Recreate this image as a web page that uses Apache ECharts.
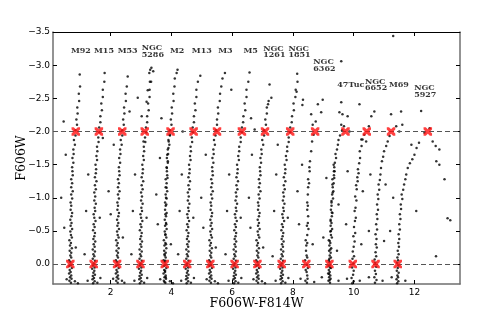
<!DOCTYPE html>
<html><head><meta charset="utf-8">
<script src="https://cdn.jsdelivr.net/npm/echarts@6/dist/echarts.min.js"></script>
<style>html,body{margin:0;padding:0;background:#fff}#c{width:482px;height:317px}</style>
</head><body><div id="c"></div>
<script>
// ---- tick labels ----
const xTicks = [2, 4, 6, 8, 10, 12];
const yTicks = [-3.5, -3.0, -2.5, -2.0, -1.5, -1.0, -0.5, 0.0];

// ---- fiducial markers (red crosses) ----
const zeroLevelX = [0.67,1.44,2.21,2.98,3.78,4.52,5.28,6.08,6.83,7.63,8.44,9.20,9.97,10.72,11.45];
const twoLevelX  = [0.85,1.61,2.38,3.12,3.97,4.73,5.50,6.32,7.08,7.91,8.73,9.73,10.43,11.23,12.44];
const refLevels  = [0, -2];

// ---- cluster labels ----
const labelNames = ['M92','M15','M53','NGC\n5286','M2','M13','M3','M5','NGC\n1261','NGC\n1851','NGC\n6362','47Tuc','NGC\n6652','M69','NGC\n5927'];
const labelX = [0.69,1.45,2.23,3.02,3.95,4.67,5.54,6.37,7.02,7.85,8.67,9.46,10.37,11.16,11.99];
const labelY = [-3.21,-3.21,-3.21,-3.21,-3.21,-3.21,-3.21,-3.21,-3.20,-3.20,-3.00,-2.70,-2.70,-2.70,-2.60];

// ---- stars: [F606W-F814W (offset), F606W (relative)] ----
const M92 = [[.69,.28],[.64,.25],[.71,.22],[.66,.2],[.70,.17],[.63,.14],[.68,.12],[.65,.09],[.72,.06],[.64,.03],[.69,.01],[.67,-.03],[.63,-.06],[.70,-.1],[.67,-.13],[.70,-.17],[.65,-.2],[.72,-.24],[.66,-.28],[.69,-.32],[.64,-.36],[.72,-.4],[.69,-.44],[.67,-.49],[.73,-.53],[.68,-.58],[.71,-.62],[.67,-.67],[.71,-.72],[.73,-.77],[.68,-.82],[.70,-.88],[.68,-.93],[.73,-.99],[.70,-1.05],[.75,-1.1],[.70,-1.16],[.73,-1.22],[.70,-1.28],[.75,-1.34],[.74,-1.4],[.73,-1.46],
[.77,-1.53],[.74,-1.6],[.78,-1.66],[.77,-1.73],[.82,-1.8],[.79,-1.87],[.84,-1.94],[.84,-2.02],[.89,-2.1],[.87,-2.18],[.91,-2.27],[.90,-2.36],[.96,-2.46],[.95,-2.57],[.99,-2.68],[.98,-2.86],
[.47,-.55],[.37,-1.0],[.85,-.25],[.52,-1.65],[.82,.26],[.55,.23],[.92,.29],[.45,-2.15]];
const M15 = [[1.42,.29],[1.47,.26],[1.40,.23],[1.45,.21],[1.41,.18],[1.48,.16],[1.43,.13],[1.46,.1],[1.39,.07],[1.47,.05],[1.42,.02],[1.44,-.01],[1.48,-.05],[1.41,-.08],[1.46,-.12],[1.43,-.15],[1.48,-.19],[1.41,-.22],[1.47,-.26],[1.44,-.3],[1.49,-.34],[1.43,-.38],[1.46,-.42],[1.48,-.47],[1.42,-.51],[1.47,-.56],[1.44,-.6],[1.50,-.65],[1.46,-.7],[1.44,-.75],[1.49,-.8],[1.47,-.85],[1.51,-.91],[1.46,-.96],[1.49,-1.02],[1.46,-1.08],[1.51,-1.13],[1.48,-1.19],[1.53,-1.25],[1.48,-1.31],[1.51,-1.37],[1.52,-1.43],
[1.50,-1.5],[1.55,-1.57],[1.53,-1.63],[1.56,-1.7],[1.55,-1.77],[1.60,-1.84],[1.59,-1.91],[1.63,-1.99],[1.62,-2.06],[1.66,-2.14],[1.66,-2.23],[1.71,-2.32],[1.69,-2.42],[1.74,-2.52],[1.74,-2.63],[1.79,-2.75],[1.80,-2.88],
[1.19,-.8],[1.64,-.7],[1.26,-1.35],[1.56,.28],[1.24,.25],[1.66,.21],[1.14,-.15],[1.74,-1.9]];
const M53 = [[2.23,.28],[2.18,.25],[2.25,.22],[2.20,.2],[2.24,.17],[2.17,.14],[2.22,.12],[2.19,.09],[2.26,.06],[2.18,.03],[2.23,.01],[2.21,-.03],[2.17,-.06],[2.24,-.1],[2.21,-.13],[2.24,-.17],[2.19,-.2],[2.26,-.24],[2.20,-.28],[2.23,-.32],[2.18,-.36],[2.26,-.4],[2.23,-.44],[2.21,-.49],[2.27,-.53],[2.22,-.58],[2.25,-.62],[2.21,-.67],[2.25,-.72],[2.27,-.77],[2.22,-.82],[2.24,-.88],[2.22,-.93],[2.27,-.99],[2.24,-1.05],[2.29,-1.1],[2.24,-1.16],[2.27,-1.22],[2.24,-1.28],[2.29,-1.34],[2.28,-1.4],[2.27,-1.46],
[2.31,-1.53],[2.28,-1.6],[2.32,-1.66],[2.31,-1.73],[2.36,-1.8],[2.33,-1.87],[2.38,-1.94],[2.38,-2.02],[2.43,-2.1],[2.41,-2.18],[2.45,-2.27],[2.44,-2.36],[2.50,-2.46],[2.49,-2.57],[2.53,-2.68],[2.56,-2.83],
[2.0,-.75],[1.93,-1.1],[2.4,-.4],[2.1,-1.8],[2.37,.25],[2.08,.22],[2.45,.28],[2.62,-2.3]];
const NGC5286 = [[2.96,.29],[3.01,.26],[2.94,.23],[2.99,.21],[2.95,.18],[3.02,.16],[2.97,.13],[3.00,.1],[2.93,.07],[3.01,.05],[2.96,.02],[2.98,-.01],[3.02,-.05],[2.95,-.08],[3.00,-.12],[2.97,-.15],[3.02,-.19],[2.95,-.22],[3.01,-.26],[2.98,-.3],[3.03,-.34],[2.97,-.38],[3.00,-.42],[3.02,-.47],[2.96,-.51],[3.01,-.56],[2.98,-.6],[3.04,-.65],[3.00,-.7],[2.98,-.75],[3.03,-.8],[3.01,-.85],[3.05,-.91],[3.00,-.96],[3.03,-1.02],[3.00,-1.08],[3.05,-1.13],[3.02,-1.19],[3.07,-1.25],[3.02,-1.31],[3.05,-1.37],[3.06,-1.43],
[3.04,-1.5],[3.09,-1.57],[3.07,-1.63],[3.10,-1.7],[3.09,-1.77],[3.14,-1.84],[3.13,-1.91],[3.17,-1.99],[3.16,-2.06],[3.20,-2.14],[3.20,-2.23],[3.25,-2.32],[3.23,-2.42],[3.28,-2.52],[3.28,-2.63],[3.33,-2.75],
[3.30,-2.93],[3.34,-2.96],[3.27,-2.88],[3.40,-2.91],[3.22,-2.62],[3.18,-2.45],[3.29,-2.75],[3.02,-2.23],[2.89,-2.51],[3.08,-1.85],
[2.73,-.8],[3.18,-.7],[2.8,-1.35],[3.1,.28],[2.78,.25],[3.2,.21],[2.68,-.15]];
const M2 = [[3.80,.28],[3.75,.25],[3.82,.22],[3.77,.2],[3.81,.17],[3.74,.14],[3.79,.12],[3.76,.09],[3.83,.06],[3.75,.03],[3.80,.01],[3.78,-.03],[3.74,-.06],[3.81,-.1],[3.78,-.13],[3.81,-.17],[3.76,-.2],[3.83,-.24],[3.77,-.28],[3.80,-.32],[3.75,-.36],[3.83,-.4],[3.80,-.44],[3.78,-.49],[3.84,-.53],[3.79,-.58],[3.82,-.62],[3.78,-.67],[3.82,-.72],[3.84,-.77],[3.79,-.82],[3.81,-.88],[3.79,-.93],[3.84,-.99],[3.81,-1.05],[3.86,-1.1],[3.81,-1.16],[3.84,-1.22],[3.81,-1.28],[3.86,-1.34],[3.85,-1.4],[3.84,-1.46],
[3.77,.27],[3.81,.2],[3.79,.1],[3.80,-.05],[3.77,-.15],[3.82,-.3],[3.80,-.45],[3.83,-.6],[3.80,-.75],[3.83,-.9],[3.82,-1.0],[3.84,-1.15],[3.87,-1.3],[3.85,-1.45],[3.88,-1.55],[3.86,-1.65],[3.90,-1.75],[3.91,-1.85],[3.94,-1.95],
[3.88,-1.53],[3.85,-1.6],[3.89,-1.66],[3.88,-1.73],[3.93,-1.8],[3.90,-1.87],[3.95,-1.94],[3.95,-2.02],[4.00,-2.1],[3.98,-2.18],[4.02,-2.27],[4.01,-2.36],[4.07,-2.46],[4.06,-2.57],[4.10,-2.68],[4.11,-2.8],[4.17,-2.88],[4.20,-2.93],
[3.55,-.6],[3.5,-1.05],[3.98,-.3],[3.62,-1.6],[3.95,.26],[3.63,.23],[4.05,.29],[3.67,-2.2]];
const M13 = [[4.50,.29],[4.55,.26],[4.48,.23],[4.53,.21],[4.49,.18],[4.56,.16],[4.51,.13],[4.54,.1],[4.47,.07],[4.55,.05],[4.50,.02],[4.52,-.01],[4.56,-.05],[4.49,-.08],[4.54,-.12],[4.51,-.15],[4.56,-.19],[4.49,-.22],[4.55,-.26],[4.52,-.3],[4.57,-.34],[4.51,-.38],[4.54,-.42],[4.56,-.47],[4.50,-.51],[4.55,-.56],[4.52,-.6],[4.58,-.65],[4.54,-.7],[4.52,-.75],[4.57,-.8],[4.55,-.85],[4.59,-.91],[4.54,-.96],[4.57,-1.02],[4.54,-1.08],[4.59,-1.13],[4.56,-1.19],[4.61,-1.25],[4.56,-1.31],[4.59,-1.37],[4.60,-1.43],
[4.58,-1.5],[4.63,-1.57],[4.61,-1.63],[4.64,-1.7],[4.63,-1.77],[4.68,-1.84],[4.67,-1.91],[4.71,-1.99],[4.70,-2.06],[4.74,-2.14],[4.74,-2.23],[4.79,-2.32],[4.77,-2.42],[4.82,-2.52],[4.82,-2.63],[4.87,-2.75],[4.95,-2.84],
[4.27,-.8],[4.72,-.7],[4.34,-1.35],[4.64,.28],[4.32,.25],[4.74,.21],[4.22,-.15],[4.37,-2.0]];
const M3 = [[5.30,.28],[5.25,.25],[5.32,.22],[5.27,.2],[5.31,.17],[5.24,.14],[5.29,.12],[5.26,.09],[5.33,.06],[5.25,.03],[5.30,.01],[5.28,-.03],[5.24,-.06],[5.31,-.1],[5.28,-.13],[5.31,-.17],[5.26,-.2],[5.33,-.24],[5.27,-.28],[5.30,-.32],[5.25,-.36],[5.33,-.4],[5.30,-.44],[5.28,-.49],[5.34,-.53],[5.29,-.58],[5.32,-.62],[5.28,-.67],[5.32,-.72],[5.34,-.77],[5.29,-.82],[5.31,-.88],[5.29,-.93],[5.34,-.99],[5.31,-1.05],[5.36,-1.1],[5.31,-1.16],[5.34,-1.22],[5.31,-1.28],[5.36,-1.34],[5.35,-1.4],[5.34,-1.46],
[5.38,-1.53],[5.35,-1.6],[5.39,-1.66],[5.38,-1.73],[5.43,-1.8],[5.40,-1.87],[5.45,-1.94],[5.47,-2.02],[5.50,-2.1],[5.50,-2.18],[5.54,-2.27],[5.53,-2.36],[5.59,-2.46],[5.60,-2.57],[5.64,-2.68],[5.68,-2.8],[5.76,-2.88],
[5.05,-.55],[4.98,-1.0],[5.46,-.25],[5.13,-1.65],[5.43,.26],[5.16,.23],[5.53,.29],[5.97,-2.63]];
const M5 = [[6.06,.29],[6.11,.26],[6.04,.23],[6.09,.21],[6.05,.18],[6.12,.16],[6.07,.13],[6.10,.1],[6.03,.07],[6.11,.05],[6.06,.02],[6.08,-.01],[6.12,-.05],[6.05,-.08],[6.10,-.12],[6.07,-.15],[6.12,-.19],[6.05,-.22],[6.11,-.26],[6.08,-.3],[6.13,-.34],[6.08,-.38],[6.11,-.42],[6.13,-.47],[6.07,-.51],[6.12,-.56],[6.09,-.6],[6.15,-.65],[6.11,-.7],[6.09,-.75],[6.14,-.8],[6.12,-.85],[6.16,-.91],[6.11,-.96],[6.14,-1.02],[6.12,-1.08],[6.17,-1.13],[6.14,-1.19],[6.19,-1.25],[6.14,-1.31],[6.17,-1.37],[6.18,-1.43],
[6.16,-1.5],[6.22,-1.57],[6.20,-1.63],[6.23,-1.7],[6.23,-1.77],[6.28,-1.84],[6.28,-1.91],[6.32,-1.99],[6.32,-2.06],[6.36,-2.14],[6.37,-2.23],[6.43,-2.32],[6.41,-2.42],[6.47,-2.52],[6.47,-2.63],[6.53,-2.75],[6.57,-2.89],
[5.83,-.8],[6.28,-.7],[5.9,-1.35],[6.2,.28],[5.88,.25],[6.3,.21],[5.78,-.15],[6.74,-2.03]];
const NGC1261 = [[6.85,.28],[6.80,.25],[6.87,.22],[6.82,.2],[6.86,.17],[6.79,.14],[6.84,.12],[6.81,.09],[6.88,.06],[6.80,.03],[6.85,.01],[6.83,-.03],[6.79,-.06],[6.86,-.1],[6.83,-.13],[6.86,-.17],[6.81,-.2],[6.88,-.24],[6.82,-.28],[6.85,-.32],[6.80,-.36],[6.89,-.4],[6.86,-.44],[6.84,-.49],[6.90,-.53],[6.85,-.58],[6.88,-.62],[6.84,-.67],[6.88,-.72],[6.90,-.77],[6.85,-.82],[6.87,-.88],[6.85,-.93],[6.90,-.99],[6.87,-1.05],[6.93,-1.1],[6.88,-1.16],[6.91,-1.22],[6.88,-1.28],[6.93,-1.34],[6.92,-1.4],[6.91,-1.46],
[6.95,-1.53],[6.93,-1.6],[6.97,-1.66],[6.96,-1.73],[7.02,-1.8],[6.99,-1.87],[7.05,-1.94],[7.05,-2.02],[7.11,-2.1],[7.09,-2.18],[7.14,-2.27],[7.14,-2.36],[7.20,-2.46],[7.23,-2.71],[7.29,-2.51],[7.18,-2.41],
[6.6,-.55],[6.55,-1.0],[7.02,-.25],[6.65,-1.65],[6.98,.26],[6.7,.23],[7.08,.29],[6.62,-2.2]];
const NGC1851 = [[7.61,.29],[7.66,.26],[7.59,.23],[7.64,.21],[7.60,.18],[7.67,.16],[7.62,.13],[7.65,.1],[7.58,.07],[7.66,.05],[7.61,.02],[7.63,-.01],[7.67,-.05],[7.60,-.08],[7.66,-.12],[7.63,-.15],[7.68,-.19],[7.61,-.22],[7.67,-.26],[7.64,-.3],[7.69,-.34],[7.63,-.38],[7.66,-.42],[7.68,-.47],[7.62,-.51],[7.67,-.56],[7.64,-.6],[7.71,-.65],[7.67,-.7],[7.65,-.75],[7.70,-.8],[7.68,-.85],[7.72,-.91],[7.67,-.96],[7.70,-1.02],[7.68,-1.08],[7.73,-1.13],[7.70,-1.19],[7.75,-1.25],[7.70,-1.31],[7.74,-1.37],[7.75,-1.43],
[7.73,-1.5],[7.79,-1.57],[7.77,-1.63],[7.81,-1.7],[7.81,-1.77],[7.86,-1.84],[7.86,-1.91],[7.91,-1.99],[7.91,-2.06],[7.96,-2.14],[7.97,-2.23],[8.03,-2.32],[8.02,-2.42],[8.08,-2.52],[8.09,-2.63],[8.15,-2.75],[8.14,-2.87],[8.33,-2.48],[8.31,-2.4],[8.12,-2.6],
[7.38,-.8],[7.83,-.7],[7.45,-1.35],[7.75,.28],[7.43,.25],[7.85,.21],[7.33,-.12],[7.5,-1.8]];
const NGC6362 = [[8.46,.28],[8.41,.25],[8.48,.22],[8.47,.17],[8.45,.12],[8.42,.09],[8.49,.06],[8.46,.01],[8.40,-.06],[8.47,-.1],[8.45,-.13],[8.43,-.2],[8.44,-.28],[8.47,-.32],[8.42,-.36],[8.47,-.44],[8.51,-.53],[8.46,-.58],[8.49,-.62],[8.50,-.72],[8.47,-.82],[8.49,-.88],[8.47,-.93],[8.49,-1.05],[8.50,-1.16],[8.53,-1.22],[8.50,-1.28],[8.55,-1.4],[8.54,-1.46],
[8.56,-1.55],[8.60,-1.7],[8.63,-1.85],[8.68,-1.95],[8.65,-2.1],[8.60,-2.26],[8.82,-2.41],[8.93,-2.29],[8.98,-2.48],[8.75,-2.15],
[8.2,-.6],[8.15,-1.1],[8.65,-.3],[8.7,.27],[8.25,.22],[8.3,-1.5]];
const Tuc47 = [[9.22,.28],[9.17,.25],[9.24,.22],[9.19,.2],[9.23,.17],[9.16,.14],[9.21,.12],[9.18,.09],[9.25,.06],[9.17,.03],[9.22,.01],[9.20,-.03],[9.18,-.06],[9.25,-.1],[9.21,-.13],[9.24,-.17],[9.19,-.2],[9.26,-.24],[9.20,-.28],[9.23,-.32],[9.18,-.36],[9.28,-.4],[9.25,-.44],[9.23,-.49],[9.29,-.53],[9.24,-.58],[9.27,-.62],[9.24,-.67],[9.28,-.72],[9.30,-.77],[9.25,-.82],[9.27,-.88],[9.27,-.93],[9.32,-.99],[9.29,-1.05],[9.33,-1.1],[9.31,-1.16],[9.34,-1.22],[9.30,-1.28],[9.35,-1.34],[9.37,-1.4],[9.36,-1.46],
[9.21,.24],[9.19,.15],[9.22,.05],[9.20,-.08],[9.23,-.22],[9.21,-.35],[9.25,-.5],[9.24,-.65],[9.28,-.78],[9.27,-.95],[9.31,-1.08],[9.30,-1.2],[9.36,-1.3],[9.35,-1.4],[9.34,-1.5],
[9.38,-1.53],[9.42,-1.6],[9.40,-1.66],[9.45,-1.73],[9.48,-1.8],[9.50,-1.87],[9.55,-1.94],[9.62,-2.02],[9.68,-2.08],[9.59,-2.1],[9.86,-2.0],[9.53,-2.29],[9.63,-2.26],[9.80,-2.23],[9.59,-2.44],[9.59,-3.06],
[9.0,-.4],[9.45,-.2],[9.5,.25],[8.95,.2],[9.1,-1.3],[9.5,-.9]];
const NGC6652 = [[9.95,.29],[10.00,.26],[9.93,.21],[9.98,.16],[10.00,.1],[9.95,.05],[9.99,-.01],[9.96,-.08],[10.01,-.12],[9.97,-.19],[10.00,-.26],[10.03,-.34],[9.99,-.42],[10.05,-.47],[10.01,-.56],[10.04,-.65],[10.07,-.7],[10.03,-.8],[10.06,-.85],[10.09,-.96],[10.05,-1.02],[10.10,-1.13],[10.08,-1.19],[10.13,-1.25],[10.12,-1.31],[10.16,-1.37],[10.14,-1.43],
[10.18,-1.52],[10.21,-1.6],[10.20,-1.7],[10.26,-1.78],[10.25,-1.88],[10.29,-1.88],[10.41,-1.85],[10.35,-1.95],[10.19,-2.41],[10.58,-2.23],[10.68,-2.3],[10.50,-2.08],
[9.75,-.6],[10.25,-.3],[10.2,.25],[9.78,.22],[9.8,-1.4],[10.3,-1.1]];
const M69 = [[10.70,.28],[10.75,.24],[10.68,.2],[10.73,.15],[10.70,.1],[10.74,.04],[10.71,-.02],[10.69,-.07],[10.74,-.12],[10.72,-.18],[10.76,-.25],[10.73,-.3],[10.75,-.38],[10.72,-.45],[10.77,-.52],[10.74,-.6],[10.78,-.68],[10.76,-.75],[10.80,-.82],[10.77,-.9],[10.81,-.98],[10.79,-1.05],[10.84,-1.12],[10.82,-1.2],[10.86,-1.27],[10.88,-1.35],[10.90,-1.45],
[10.93,-1.55],[10.97,-1.62],[11.00,-1.7],[11.07,-1.78],[11.12,-1.85],[11.18,-1.93],[11.40,-2.08],[11.60,-2.1],[11.50,-2.0],[11.23,-2.26],[11.56,-2.3],[11.30,-3.44],
[10.5,-.5],[11.0,-.35],[10.95,.25],[10.5,.2],[11.05,-1.2],[10.55,-1.35]];
const NGC5927 = [[11.43,.29],[11.47,.26],[11.41,.23],[11.46,.2],[11.44,.17],[11.48,.13],[11.42,.1],[11.45,.06],[11.47,.02],[11.43,-.02],[11.46,-.06],[11.44,-.1],[11.48,-.15],[11.45,-.2],[11.49,-.26],[11.47,-.32],[11.50,-.38],[11.48,-.45],[11.52,-.52],[11.50,-.6],[11.54,-.68],[11.52,-.75],[11.56,-.83],[11.55,-.9],[11.60,-.98],[11.58,-1.05],[11.63,-1.12],[11.66,-1.2],[11.70,-1.28],[11.73,-1.35],
[11.78,-1.45],[11.85,-1.52],[11.93,-1.58],[12.00,-1.65],[12.07,-1.75],[11.90,-1.8],[12.15,-1.83],[12.60,-1.85],[12.70,-1.78],[12.82,-1.73],[12.72,-1.55],[12.82,-1.5],[12.99,-1.28],[12.22,-2.31],[12.33,-1.98],[12.50,-2.05],
[12.06,-.8],[13.09,-.69],[13.18,-.66],[12.71,-.12],[11.2,-.5],[11.7,.25],[11.25,.2],[11.3,-1.0]];

const clusters = [M92,M15,M53,NGC5286,M2,M13,M3,M5,NGC1261,NGC1851,NGC6362,Tuc47,NGC6652,M69,NGC5927];

const chart = echarts.init(document.getElementById('c'), null, {renderer:'canvas'});
const fmt = v => (v < 0 ? '\u2212' : '') + Math.abs(v).toFixed(1);
const xMin = 0.1, xMax = 13.5, yMin = -3.5, yMax = 0.3;
const spine = {color:'#6f6f6f', width:1.5};
function xAx(pos, main){
  return {type:'value', position:pos, min:xMin, max:xMax, splitLine:{show:false},
    axisLine:{show:true, onZero:false, lineStyle: pos==='top'?{color:'#000',width:1}:spine},
    axisTick:{show:true, inside:true, length:4, customValues:xTicks, lineStyle:{color:'#000',width:1}},
    axisLabel:{show:main, customValues:xTicks, fontFamily:'DejaVu Sans', fontSize:9, color:'#000', margin:4},
    name: main?'F606W-F814W':'', nameLocation:'middle', nameGap:13, nameMoveOverlap:false,
    nameTextStyle:{fontFamily:'DejaVu Serif', fontSize:12.5, color:'#000'}};
}
function yAx(pos, main){
  return {type:'value', position:pos, inverse:true, min:yMin, max:yMax, splitLine:{show:false},
    axisLine:{show:true, onZero:false, lineStyle:spine},
    axisTick:{show:true, inside:true, length:4, customValues:yTicks, lineStyle:{color:'#000',width:1}},
    axisLabel:{show:main, customValues:yTicks, formatter:fmt, fontFamily:'DejaVu Sans', fontSize:9, color:'#000', margin:3},
    name: main?'F606W':'', nameLocation:'middle', nameGap:25, nameMoveOverlap:false,
    nameTextStyle:{fontFamily:'DejaVu Serif', fontSize:12.5, color:'#000'}};
}
const series = clusters.map(c => ({type:'scatter', data:c, symbol:'circle', symbolSize:2.5,
  itemStyle:{color:'#000'}, silent:true, z:2}));
series.push({type:'scatter', data:[], z:3, silent:true,
  markLine:{silent:true, symbol:['none','none'], label:{show:false},
    lineStyle:{color:'#555', width:1, type:[5,3]},
    data: refLevels.map(v => ({yAxis:v}))}});
const xShape = 'path://M0,0 L2.6,0 L5,2.4 L7.4,0 L10,0 L10,2.6 L7.6,5 L10,7.4 L10,10 L7.4,10 L5,7.6 L2.6,10 L0,10 L0,7.4 L2.4,5 L0,2.6 Z';
series.push({type:'scatter', z:5, silent:true, symbol:xShape, symbolSize:8.5,
  itemStyle:{color:'#ff1010'},
  data: zeroLevelX.map(x => [x, refLevels[0]]).concat(twoLevelX.map(x => [x, refLevels[1]]))});
series.push({type:'scatter', z:6, silent:true, symbolSize:0,
  data: labelNames.map((n,i) => ({name:n, value:[labelX[i], labelY[i]]})),
  label:{show:true, position:'right', distance:0, formatter: p => p.name,
    fontFamily:'DejaVu Serif', fontWeight:'bold', fontSize:8, lineHeight:6.7, color:'#000'}});

chart.setOption({
  animation:false,
  backgroundColor:'#fff',
  grid:{left:53, right:22, top:32, bottom:33, containLabel:false, outerBoundsMode:'none'},
  xAxis:[xAx('bottom', true), xAx('top', false)],
  yAxis:[yAx('left', true), yAx('right', false)],
  series: series
});
</script></body></html>
